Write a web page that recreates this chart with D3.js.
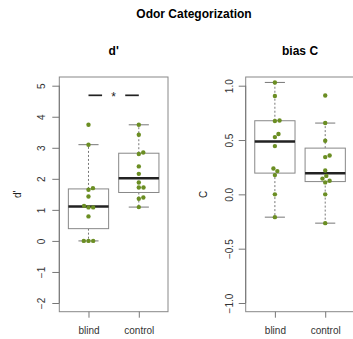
<!DOCTYPE html>
<html>
<head>
<meta charset="utf-8">
<script src="https://cdn.jsdelivr.net/npm/d3@7"></script>
<style>
  body { margin: 0; background: #fff; }
  svg { font-family: "Liberation Sans", Arial, sans-serif; }
  .tick text { fill: #333; font-size: 10px; }
  .tick line { stroke: #777; }
</style>
</head>
<body>
<svg id="chart" width="353" height="339"></svg>
<script>
// groups shown on the x axis of both panels
const groups = ['blind', 'control'];

// d' values per subject
const dPrimeBlind = [3.74, 3.10, 1.70, 1.65, 1.43, 1.13, 1.08, 1.08, 0.79, 0, 0, 0];
const dPrimeControl = [3.74, 3.42, 2.85, 2.80, 2.40, 2.16, 1.88, 1.72, 1.72, 1.40, 1.36, 1.09];

// bias C values per subject
const biasBlind = [1.03, 0.905, 0.68, 0.675, 0.555, 0.527, 0.444, 0.238, 0.214, 0.177, 0, -0.21];
const biasControl = [0.91, 0.656, 0.493, 0.358, 0.343, 0.22, 0.17, 0.145, 0.125, 0.11, 0, -0.265];

// tick values
const dPrimeTicks = [-2, -1, 0, 1, 2, 3, 4, 5];
const biasTicks = [-1, -0.5, 0, 0.5, 1];

// R style boxplot stats (tukey hinges, 1.5 IQR whiskers)
function boxStats(values) {
    let s = values.slice().sort((a, b) => a - b);
    let n = s.length;
    let med = d3.median(s);
    let half = Math.floor((n + 1) / 2);
    let lower = d3.median(s.slice(0, half));
    let upper = d3.median(s.slice(n - half));
    let iqr = upper - lower;
    let lo = d3.min(s.filter(v => v >= lower - 1.5 * iqr));
    let hi = d3.max(s.filter(v => v <= upper + 1.5 * iqr));
    return { med, lower, upper, lo, hi };
}

// simple beeswarm: put each point at the free offset closest to the centre
function swarm(values, y, spacing) {
    let pts = values.map(v => ({ v, py: y(v) })).sort((a, b) => a.v - b.v);
    let placed = [];
    pts.forEach(p => {
        let near = placed.filter(q => Math.abs(q.py - p.py) < spacing);
        let cands = [0];
        near.forEach(q => {
            let off = Math.sqrt(spacing * spacing - (q.py - p.py) * (q.py - p.py));
            cands.push(q.dx + off, q.dx - off);
        });
        let ok = cands.filter(c => near.every(q => {
            let off = Math.sqrt(spacing * spacing - (q.py - p.py) * (q.py - p.py));
            return Math.abs(c - q.dx) >= off - 1e-6;
        }));
        ok.sort((a, b) => (Math.abs(a) - Math.abs(b)) || (b - a));
        p.dx = ok[0];
        placed.push(p);
    });
    return placed;
}

const svg = d3.select('#chart');

svg.append('text')
    .attr('x', 194)
    .attr('y', 18)
    .attr('text-anchor', 'middle')
    .style('font-size', '12px')
    .style('font-weight', 'bold')
    .text('Odor Categorization');

function drawPanel(opts) {
    let top = 77, bottom = 311.7;

    let x = d3.scaleLinear()
        .domain([0.42, 2.58])
        .range([opts.left, opts.left + 108.7]);
    let y = d3.scaleLinear()
        .domain(opts.yDomain)
        .range([bottom, top]);

    let g = svg.append('g');

    // panel title
    g.append('text')
        .attr('x', (x.range()[0] + x.range()[1]) / 2)
        .attr('y', 54.5)
        .attr('text-anchor', 'middle')
        .style('font-size', '12px')
        .style('font-weight', 'bold')
        .text(opts.title);

    // frame
    g.append('rect')
        .attr('x', x.range()[0])
        .attr('y', top)
        .attr('width', x.range()[1] - x.range()[0])
        .attr('height', bottom - top)
        .attr('fill', 'none')
        .attr('stroke', '#888')
        .attr('stroke-width', 1);

    // y axis
    let yAxis = d3.axisLeft(y)
        .tickValues(opts.ticks)
        .tickFormat(opts.format)
        .tickSizeInner(7)
        .tickSizeOuter(0);
    let ya = g.append('g')
        .attr('transform', 'translate(' + x.range()[0] + ',0)')
        .call(yAxis);
    ya.select('.domain').remove();
    ya.selectAll('.tick text')
        .attr('x', null)
        .attr('dy', null)
        .attr('y', opts.labelOffset)
        .attr('transform', 'rotate(-90)')
        .style('text-anchor', 'middle');
    g.append('line')
        .attr('x1', x.range()[0]).attr('x2', x.range()[0])
        .attr('y1', y(opts.ticks[0])).attr('y2', y(opts.ticks[opts.ticks.length - 1]))
        .attr('stroke', '#777');

    // y axis title
    g.append('text')
        .attr('transform', 'translate(' + opts.titleX + ',' + ((top + bottom) / 2) + ') rotate(-90)')
        .attr('text-anchor', 'middle')
        .style('font-size', '10px')
        .attr('fill', '#222')
        .text(opts.yLabel);

    // x axis
    let xAxis = d3.axisBottom(x)
        .tickValues([1, 2])
        .tickFormat((d, i) => groups[i])
        .tickSizeInner(6)
        .tickSizeOuter(0);
    let xa = g.append('g')
        .attr('transform', 'translate(0,' + bottom + ')')
        .call(xAxis);
    xa.select('.domain').remove();
    xa.selectAll('.tick text').attr('y', 15).attr('dy', '0.71em');

    // boxes
    let bw = 0.8;
    opts.series.forEach((vals, i) => {
        let c = i + 1;
        let st = boxStats(vals);
        let bg = g.append('g');
        bg.append('line')
            .attr('x1', x(c)).attr('x2', x(c))
            .attr('y1', y(st.upper)).attr('y2', y(st.hi))
            .attr('stroke', '#777').attr('stroke-dasharray', '2,2');
        bg.append('line')
            .attr('x1', x(c)).attr('x2', x(c))
            .attr('y1', y(st.lower)).attr('y2', y(st.lo))
            .attr('stroke', '#777').attr('stroke-dasharray', '2,2');
        [st.hi, st.lo].forEach(v => {
            bg.append('line')
                .attr('x1', x(c - bw / 4)).attr('x2', x(c + bw / 4))
                .attr('y1', y(v)).attr('y2', y(v))
                .attr('stroke', '#777');
        });
        bg.append('rect')
            .attr('x', x(c - bw / 2))
            .attr('y', y(st.upper))
            .attr('width', x(c + bw / 2) - x(c - bw / 2))
            .attr('height', y(st.lower) - y(st.upper))
            .attr('fill', '#fff')
            .attr('stroke', '#888');
        bg.append('line')
            .attr('x1', x(c - bw / 2)).attr('x2', x(c + bw / 2))
            .attr('y1', y(st.med)).attr('y2', y(st.med))
            .attr('stroke', '#222').attr('stroke-width', 2.5);

        // points
        g.selectAll('.pt' + i)
            .data(swarm(vals, y, 4.7))
            .enter()
            .append('circle')
            .attr('cx', d => x(c) + d.dx)
            .attr('cy', d => d.py)
            .attr('r', 2.2)
            .attr('fill', '#6B8E23');
    });

    return { x, y, g };
}

let left = drawPanel({
    left: 59.3,
    title: "d'",
    yLabel: "d'",
    yDomain: [-2.28, 5.28],
    ticks: dPrimeTicks,
    format: d3.format('d'),
    labelOffset: -14.5,
    titleX: 20.5,
    series: [dPrimeBlind, dPrimeControl]
});

drawPanel({
    left: 245.7,
    title: 'bias C',
    yLabel: 'C',
    yDomain: [-1.08, 1.08],
    ticks: biasTicks,
    format: d3.format('.1f'),
    labelOffset: -13,
    titleX: 206.5,
    series: [biasBlind, biasControl]
});

// significance marker between the two d' groups
let sigY = left.y(4.69);
[[1, 1.27], [1.73, 2]].forEach(seg => {
    left.g.append('line')
        .attr('x1', left.x(seg[0])).attr('x2', left.x(seg[1]))
        .attr('y1', sigY).attr('y2', sigY)
        .attr('stroke', '#222').attr('stroke-width', 1.7);
});
left.g.append('text')
    .attr('x', left.x(1.5))
    .attr('y', sigY + 6)
    .attr('text-anchor', 'middle')
    .style('font-size', '12px')
    .attr('fill', '#222')
    .text('*');
</script>
</body>
</html>
